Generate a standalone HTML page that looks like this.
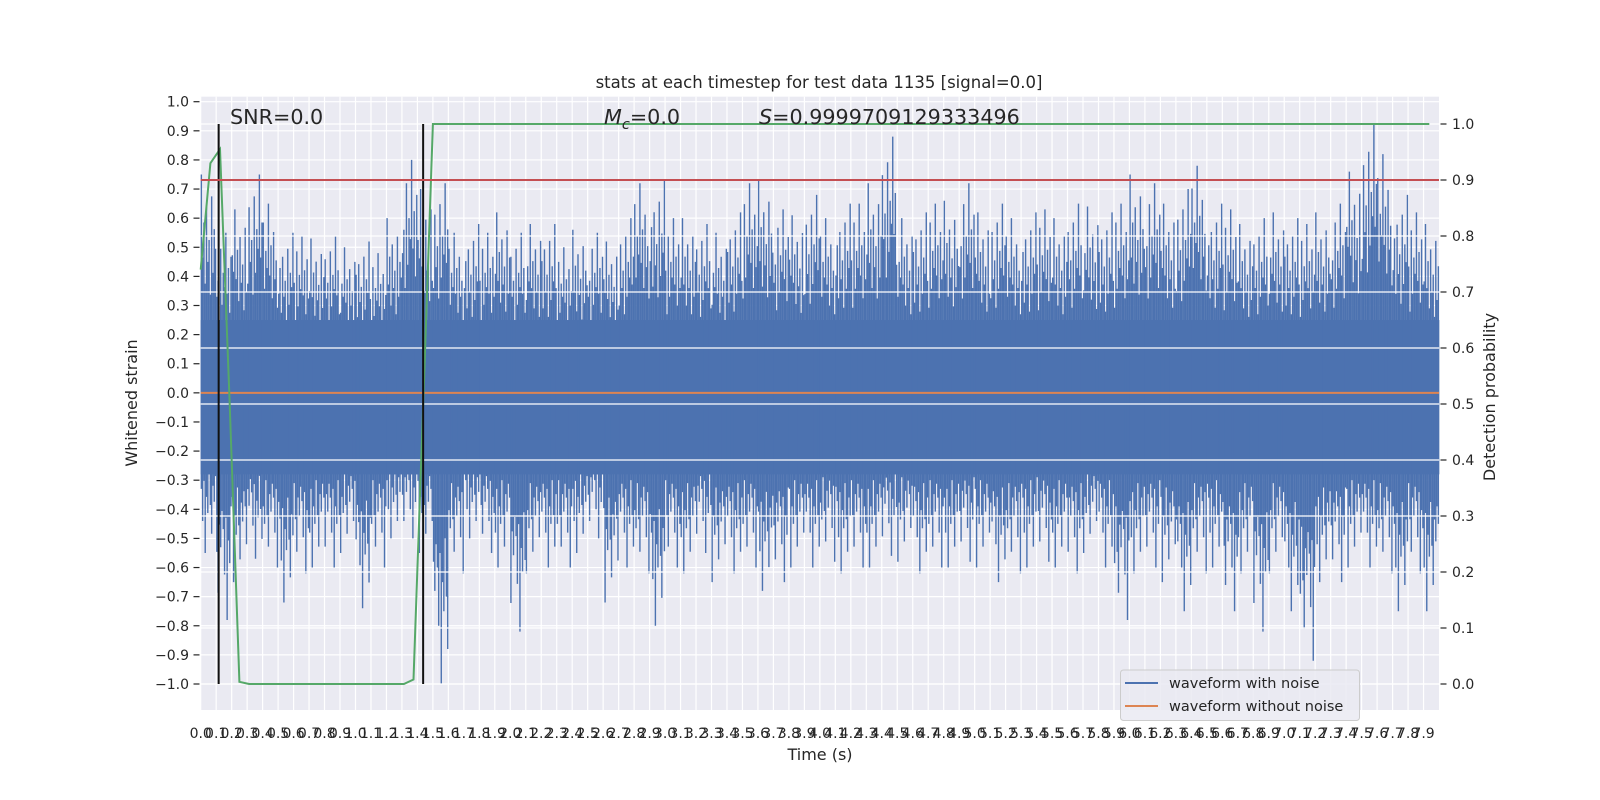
<!DOCTYPE html>
<html><head><meta charset="utf-8"><style>
html,body{margin:0;padding:0;background:#fff;}
svg{display:block;font-family:"DejaVu Sans","Liberation Sans",sans-serif;}
</style></head><body>
<svg id="chart" width="1600" height="800" viewBox="0 0 1600 800" xmlns="http://www.w3.org/2000/svg">
<rect x="200.7" y="96.7" width="1238.3" height="613.3" fill="#eaeaf2"/>
<g id="gridL"></g>
<g id="noise"></g>
<g id="over"></g>
<g id="axes"></g>
<text x="819" y="88" font-size="16.5" fill="#262626" text-anchor="middle">stats at each timestep for test data 1135 [signal=0.0]</text>
<text x="230" y="124" font-size="20.7" fill="#262626">SNR=0.0</text>
<text x="604" y="124" font-size="20.7" fill="#262626"><tspan font-style="italic">M</tspan><tspan font-style="italic" font-size="14.5" dy="5">c</tspan><tspan dy="-5">=0.0</tspan></text>
<text x="759" y="124" font-size="20.7" fill="#262626"><tspan font-style="italic">S</tspan>=0.9999709129333496</text>
<text x="820" y="760" font-size="16" fill="#262626" text-anchor="middle">Time (s)</text>
<text x="0" y="0" font-size="16" fill="#262626" text-anchor="middle" transform="translate(137,403) rotate(-90)">Whitened strain</text>
<text x="0" y="0" font-size="16" fill="#262626" text-anchor="middle" transform="translate(1495,397) rotate(-90)">Detection probability</text>
<g>
<rect x="1120.5" y="670" width="239" height="50.5" rx="3" fill="#eaeaf2" fill-opacity="0.85" stroke="#cccccc"/>
<line x1="1125" y1="683" x2="1158" y2="683" stroke="#4c72b0" stroke-width="2"/>
<text x="1169" y="688" font-size="14.5" fill="#262626">waveform with noise</text>
<line x1="1125" y1="706" x2="1158" y2="706" stroke="#dd8452" stroke-width="2"/>
<text x="1169" y="711" font-size="14.5" fill="#262626">waveform without noise</text>
</g>
</svg>
<script>
// ---- data ----
var binStart = 0.0, binWidth = 0.1;
var noiseHigh = [0.75,0.55,0.63,0.75,0.65,0.55,0.54,0.53,0.54,0.5,0.52,0.48,0.6,0.8,0.7,0.72,0.55,0.58,0.55,0.62,0.55,0.58,0.58,0.5,0.56,0.55,0.52,0.6,0.72,0.73,0.6,0.6,0.58,0.55,0.62,0.72,0.73,0.63,0.61,0.68,0.6,0.65,0.65,0.72,0.88,0.6,0.62,0.65,0.66,0.72,0.62,0.65,0.6,0.62,0.63,0.6,0.65,0.64,0.62,0.65,0.75,0.72,0.65,0.7,0.78,0.65,0.63,0.58,0.6,0.62,0.6,0.58,0.62,0.65,0.76,0.92,0.82,0.68,0.62,0.58];
var noiseLow = [-0.55,-0.78,-0.65,-0.57,-0.6,-0.72,-0.62,-0.6,-0.6,-0.55,-0.74,-0.6,-0.5,-0.5,-0.55,-1.0,-0.62,-0.5,-0.55,-0.6,-0.82,-0.62,-0.6,-0.6,-0.55,-0.5,-0.72,-0.6,-0.62,-0.8,-0.6,-0.62,-0.55,-0.65,-0.62,-0.6,-0.68,-0.65,-0.6,-0.6,-0.58,-0.62,-0.6,-0.6,-0.56,-0.58,-0.62,-0.6,-0.6,-0.58,-0.6,-0.65,-0.62,-0.6,-0.58,-0.6,-0.62,-0.55,-0.6,-0.78,-0.62,-0.6,-0.65,-0.75,-0.62,-0.6,-0.75,-0.62,-0.82,-0.62,-0.75,-0.92,-0.65,-0.65,-0.6,-0.6,-0.62,-0.75,-0.62,-0.75];
var cleanLevel = 0.0;
var probTimes = [0,0.0625,0.125,0.1875,0.25,0.3125,1.3125,1.375,1.4375,1.5,7.9375];
var probValues = [0.74,0.93,0.955,0.5,0.004,0.0,0.0,0.008,0.5,1.0,1.0];
var threshold = 0.9;
var eventTimes = [0.116,1.437];
var xTickLabels = [];
for (var k = 0; k < 80; k++) xTickLabels.push((k/10).toFixed(1));
var yTickLeft = [1.0,0.9,0.8,0.7,0.6,0.5,0.4,0.3,0.2,0.1,0.0,-0.1,-0.2,-0.3,-0.4,-0.5,-0.6,-0.7,-0.8,-0.9,-1.0];
var yTickRight = [1.0,0.9,0.8,0.7,0.6,0.5,0.4,0.3,0.2,0.1,0.0];

// ---- scales ----
var L = 200.7, R = 1439, T = 96.7, B = 710;
function X(t){ return L + t*154.79; }
function YL(v){ return 392.85 - v*291.15; }
function YR(p){ return 684 - p*560; }
var NS = "http://www.w3.org/2000/svg";
function mk(tag, attrs, parent){
  var e = document.createElementNS(NS, tag);
  for (var a in attrs) e.setAttribute(a, attrs[a]);
  parent.appendChild(e); return e;
}
function fmt(v){ return (v<0?"\u2212":"") + Math.abs(v).toFixed(1); }

var gridL = document.getElementById('gridL');
var noise = document.getElementById('noise');
var over = document.getElementById('over');
var axes = document.getElementById('axes');

for (var i = 0; i < yTickLeft.length; i++) {
  var gl = mk('line', {x1:L, x2:R, y1:YL(yTickLeft[i]), y2:YL(yTickLeft[i]), stroke:'#fff', 'stroke-width':1.2}, gridL);
  
  
}
for (var i = 0; i < xTickLabels.length; i++) {
  var xv = X(parseFloat(xTickLabels[i]));
  var gx = mk('line', {x1:xv, x2:xv, y1:T, y2:B, stroke:'#fff', 'stroke-width':1.2}, gridL);
  
  
}

// noise waveform (envelope per bin)
var fu = [1,0.62,0.78,0.5,0.85,0.6,0.7,0.45,0.9,0.55,0.75,0.66];
var fl = [0.6,0.8,0.55,1,0.65,0.75,0.5,0.7,0.88,0.58,0.68,0.52];
var coreTop = 0.25, coreBot = -0.28;
var NSUB = 12;
for (var i = 0; i < noiseHigh.length; i++) {
  var t0 = binStart + i*binWidth;
  var x0 = X(t0), w = X(t0+binWidth) - x0;
  var core = mk('rect', {x:x0, y:YL(coreTop), width:w+0.3, height:YL(coreBot)-YL(coreTop), fill:'#4c72b0'}, noise);
  
  
  for (var k = 0; k < NSUB; k++) {
    var xs = x0 + (k+0.5)*w/NSUB;
    var hu = Math.max(coreTop, noiseHigh[i]*fu[(k+5*i)%NSUB]);
    var hl = Math.min(coreBot, noiseLow[i]*fl[(k+7*i)%NSUB]);
    var ln = mk('line', {x1:xs, x2:xs, y1:YL(hu), y2:YL(hl), stroke:'#4c72b0', 'stroke-width':1.4}, noise);
    
    
  }
}

var cl = mk('line', {x1:L, x2:R, y1:YL(cleanLevel), y2:YL(cleanLevel), stroke:'#dd8452', 'stroke-width':2}, over);



for (var i = 0; i < yTickRight.length; i++) {
  var gr = mk('line', {x1:L, x2:R, y1:YR(yTickRight[i]), y2:YR(yTickRight[i]), stroke:'#fff', 'stroke-width':1.2}, over);
  
  
}

var pts = [];
for (var i = 0; i < probTimes.length; i++) pts.push(X(probTimes[i]).toFixed(1)+','+YR(probValues[i]).toFixed(1));
var pl = mk('polyline', {points:pts.join(' '), fill:'none', stroke:'#55a868', 'stroke-width':2}, over);



for (var i = 0; i < eventTimes.length; i++) {
  var ev = mk('line', {x1:X(eventTimes[i]), x2:X(eventTimes[i]), y1:YR(1.0), y2:YR(0.0), stroke:'#111', 'stroke-width':2}, over);
  
  
}

var th = mk('line', {x1:L, x2:R, y1:YR(threshold), y2:YR(threshold), stroke:'#c44e52', 'stroke-width':2}, over);



for (var i = 0; i < yTickLeft.length; i++) {
  var y = YL(yTickLeft[i]);
  var tm = mk('line', {x1:193.5, x2:199.5, y1:y, y2:y, stroke:'#262626', 'stroke-width':1.2}, axes);
  
  
  var tl = mk('text', {x:189, y:y+5, 'font-size':14, fill:'#262626', 'text-anchor':'end'}, axes);
  tl.textContent = fmt(yTickLeft[i]);
  
  
}
for (var i = 0; i < yTickRight.length; i++) {
  var y = YR(yTickRight[i]);
  var tm = mk('line', {x1:1440.5, x2:1446.5, y1:y, y2:y, stroke:'#262626', 'stroke-width':1.2}, axes);
  
  
  var tl = mk('text', {x:1452, y:y+5, 'font-size':14, fill:'#262626'}, axes);
  tl.textContent = yTickRight[i].toFixed(1);
  
  
}
for (var i = 0; i < xTickLabels.length; i++) {
  var tx = mk('text', {x:X(parseFloat(xTickLabels[i])), y:738, 'font-size':14, fill:'#262626', 'text-anchor':'middle'}, axes);
  tx.textContent = xTickLabels[i];
  
  
}
</script>
</body></html>
